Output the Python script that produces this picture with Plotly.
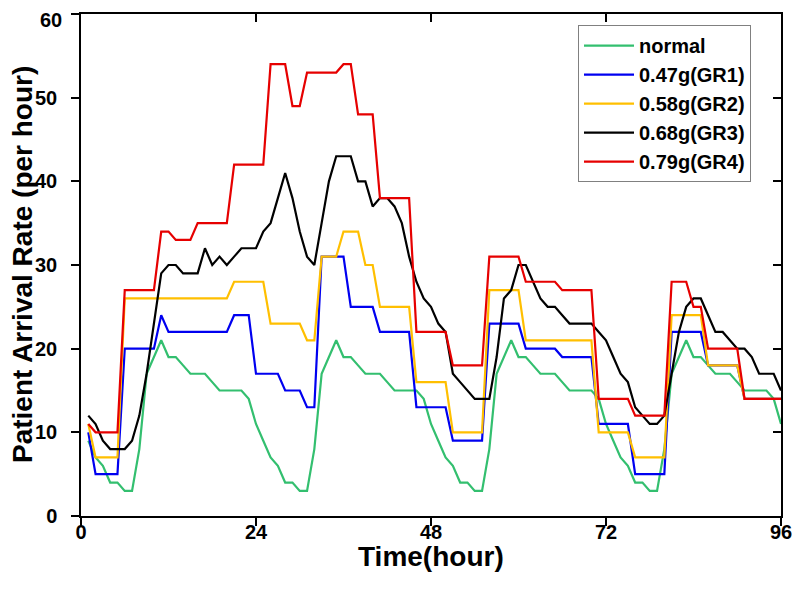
import plotly.graph_objects as go

hours = list(range(1, 97))

normal = [9, 7, 6, 4, 4, 3, 3, 8, 17, 19, 21, 19, 19, 18, 17, 17, 17, 16, 15, 15, 15, 15, 14, 11,
          9, 7, 6, 4, 4, 3, 3, 8, 17, 19, 21, 19, 19, 18, 17, 17, 17, 16, 15, 15, 15, 15, 14, 11,
          9, 7, 6, 4, 4, 3, 3, 8, 17, 19, 21, 19, 19, 18, 17, 17, 17, 16, 15, 15, 15, 15, 14, 11,
          9, 7, 6, 4, 4, 3, 3, 8, 17, 19, 21, 19, 19, 18, 17, 17, 17, 16, 15, 15, 15, 15, 14, 11]

gr1 = [10, 5, 5, 5, 5, 20, 20, 20, 20, 20, 24, 22, 22, 22, 22, 22, 22, 22, 22, 22, 24, 24, 24, 17,
       17, 17, 17, 15, 15, 15, 13, 13, 31, 31, 31, 31, 25, 25, 25, 25, 22, 22, 22, 22, 22, 13, 13, 13,
       13, 13, 9, 9, 9, 9, 9, 23, 23, 23, 23, 23, 20, 20, 20, 20, 20, 19, 19, 19, 19, 19, 11, 11,
       11, 11, 11, 5, 5, 5, 5, 5, 22, 22, 22, 22, 22, 18, 18, 18, 18, 18, 14, 14, 14, 14, 14, 14]

gr2 = [11, 7, 7, 7, 7, 26, 26, 26, 26, 26, 26, 26, 26, 26, 26, 26, 26, 26, 26, 26, 28, 28, 28, 28,
       28, 23, 23, 23, 23, 23, 21, 21, 31, 31, 31, 34, 34, 34, 30, 30, 25, 25, 25, 25, 25, 16, 16, 16,
       16, 16, 10, 10, 10, 10, 10, 27, 27, 27, 27, 27, 21, 21, 21, 21, 21, 21, 21, 21, 21, 21, 10, 10,
       10, 10, 10, 7, 7, 7, 7, 7, 24, 24, 24, 24, 24, 18, 18, 18, 18, 18, 14, 14, 14, 14, 14, 14]

gr3 = [12, 11, 9, 8, 8, 8, 9, 12, 17, 23, 29, 30, 30, 29, 29, 29, 32, 30, 31, 30, 31, 32, 32, 32,
       34, 35, 38, 41, 38, 34, 31, 30, 35, 40, 43, 43, 43, 40, 40, 37, 38, 38, 37, 35, 31, 28, 26, 25,
       23, 22, 17, 16, 15, 14, 14, 14, 19, 26, 27, 30, 30, 28, 26, 25, 25, 24, 23, 23, 23, 23, 22, 21,
       19, 17, 16, 13, 12, 11, 11, 12, 17, 22, 25, 26, 26, 24, 22, 22, 21, 20, 20, 19, 17, 17, 17, 15]

gr4 = [11, 10, 10, 10, 10, 27, 27, 27, 27, 27, 34, 34, 33, 33, 33, 35, 35, 35, 35, 35, 42, 42, 42, 42,
       42, 54, 54, 54, 49, 49, 53, 53, 53, 53, 53, 54, 54, 48, 48, 48, 38, 38, 38, 38, 38, 22, 22, 22,
       22, 22, 18, 18, 18, 18, 18, 31, 31, 31, 31, 31, 28, 28, 28, 28, 28, 27, 27, 27, 27, 27, 14, 14,
       14, 14, 14, 12, 12, 12, 12, 12, 28, 28, 28, 25, 25, 20, 20, 20, 20, 20, 14, 14, 14, 14, 14, 14]

series_names = ["normal", "0.47g(GR1)", "0.58g(GR2)", "0.68g(GR3)", "0.79g(GR4)"]
series_values = [normal, gr1, gr2, gr3, gr4]
colors = ["#33bf6f", "#0000f0", "#ffbf00", "#000000", "#e60000"]

x_ticks = [0, 24, 48, 72, 96]
y_ticks = [0, 10, 20, 30, 40, 50, 60]
y_tick_labels = ["0", "10", "20", "30", "40", "50", "60"]
x_title = "Time(hour)"
y_title = "Patient Arrival Rate (per hour)"

FONT = "Arial, Liberation Sans, sans-serif"

fig = go.Figure()
for name, vals, col in zip(series_names, series_values, colors):
    fig.add_trace(go.Scatter(x=hours, y=vals, mode="lines", name=name,
                             line=dict(color=col, width=2.2)))

# empty trace so the mirrored (inside-tick) axes get drawn
fig.add_trace(go.Scatter(x=[], y=[], xaxis="x2", yaxis="y2", showlegend=False, hoverinfo="skip"))

axis_common = dict(showline=True, linecolor="black", linewidth=1.5, showgrid=False,
                   zeroline=False, tickcolor="black", tickwidth=1.5, ticklen=8,
                   automargin=False)

# the top label sits right at the page edge, so it is drawn as a note nudged down a little
shown_y_labels = y_tick_labels[:-1] + [""]

fig.update_layout(
    width=792, height=581,
    margin=dict(l=73, r=19, t=6, b=73),
    paper_bgcolor="white", plot_bgcolor="white",
    font=dict(family=FONT, color="black"),
    xaxis=dict(range=[0, 96], tickvals=x_ticks, ticks="outside",
               tickfont=dict(size=20, weight="bold"), ticklabelstandoff=-11,
               ticklabeloverflow="allow", **axis_common),
    yaxis=dict(range=[0, 60], tickvals=y_ticks, ticktext=shown_y_labels, ticks="outside",
               tickfont=dict(size=20, weight="bold"), ticklabelstandoff=10,
               ticklabeloverflow="allow", **axis_common),
    xaxis2=dict(range=[0, 96], tickvals=x_ticks, ticks="inside", overlaying="x", side="top",
                anchor="y", showticklabels=False, **axis_common),
    yaxis2=dict(range=[0, 60], tickvals=y_ticks, ticks="inside", overlaying="y", side="right",
                anchor="x", showticklabels=False, **axis_common),
    legend=dict(x=0.71, y=0.978, xanchor="left", yanchor="top",
                bgcolor="white", bordercolor="#808080", borderwidth=1,
                font=dict(size=20, weight="bold"), itemwidth=50,
                tracegroupgap=0),
    showlegend=True,
)

fig.add_annotation(text=y_tick_labels[-1], xref="paper", yref="y", x=0, y=y_ticks[-1],
                   xanchor="right", yanchor="top", xshift=-17, yshift=7, showarrow=False,
                   font=dict(size=20, weight="bold", family=FONT))
fig.add_annotation(text=x_title, xref="paper", yref="paper", x=0.5, y=0,
                   xanchor="center", yanchor="middle", yshift=-40, showarrow=False,
                   font=dict(size=28, weight="bold", family=FONT))
fig.add_annotation(text=y_title, xref="paper", yref="paper", x=0, y=0.5,
                   xanchor="center", yanchor="middle", xshift=-59, textangle=-90,
                   showarrow=False, font=dict(size=28, weight="bold", family=FONT))

fig.write_html("out.html")
